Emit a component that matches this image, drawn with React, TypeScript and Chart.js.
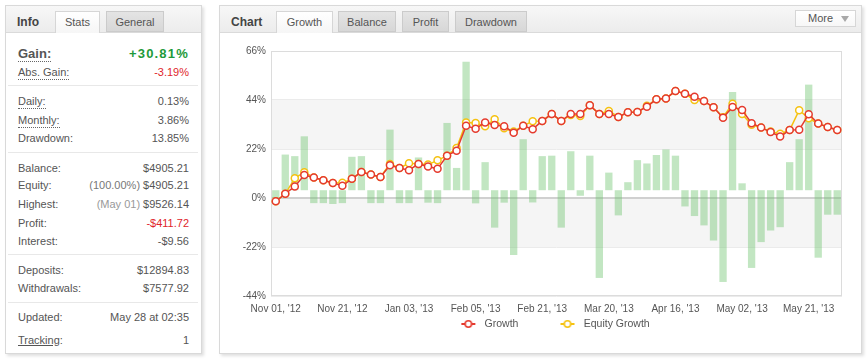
import React, { useEffect, useRef } from 'react';
import { Chart, registerables } from 'chart.js';

Chart.register(...registerables);
Chart.defaults.font.family = "'Liberation Sans', Arial, sans-serif";

// ---------- data ----------
const tickLabels = ["Nov 01, '12", "Nov 21, '12", "Jan 03, '13", "Feb 05, '13", "Feb 21, '13", "Mar 20, '13", "Apr 16, '13", "May 02, '13", "May 21, '13"];
const labelEvery = 7;

const growth = [
  -1.5, 1.9, 5.2, 10.3, 9.2, 8.0, 6.7, 5.5, 8.6, 11.7,
  10.5, 9.4, 14.7, 13.5, 12.5, 15.3, 14.1, 13.1, 19.0, 21.2,
  32.4, 31.1, 33.9, 32.8, 32.2, 29.3, 32.4, 30.9, 34.6, 37.7,
  34.6, 37.7, 37.7, 41.6, 37.7, 37.7, 36.4, 38.5, 38.6, 41.0,
  44.3, 44.7, 48.0, 46.8, 45.5, 43.5, 40.7, 36.0, 40.9, 39.5,
  33.6, 31.6, 29.6, 27.6, 30.5, 30.6, 37.6, 33.4, 31.9, 30.5,
];

const equityGrowth = [
  -1.5, 1.9, 8.9, 11.6, 9.2, 8.0, 6.7, 6.8, 8.6, 11.7,
  10.5, 9.4, 15.3, 13.5, 15.6, 15.3, 15.0, 16.9, 19.0, 22.4,
  33.9, 33.7, 32.2, 35.4, 31.3, 29.9, 32.4, 34.5, 34.6, 37.7,
  34.6, 37.3, 36.8, 41.6, 37.7, 39.1, 36.4, 38.5, 38.6, 41.4,
  44.3, 44.7, 48.0, 46.8, 44.0, 43.5, 40.7, 36.3, 42.3, 37.7,
  32.9, 31.6, 29.9, 28.8, 30.5, 39.4, 35.8, 33.4, 31.9, 30.5,
];

const periodBars = [
  -3.5, 16.0, 15.3, 24.2, -5.8, -5.8, -6.2, -5.8, 15.0, 15.3,
  -5.8, -5.8, 27.2, -5.8, -5.8, 14.7, -5.6, -5.8, 30.2, 10.0,
  57.7, -5.9, 12.6, -16.8, -5.6, -29.1, 22.9, -5.5, 15.3, 15.5,
  -16.8, 17.5, -2.5, 15.5, -39.4, 7.9, -11.3, 3.6, 13.5, 12.0,
  15.8, 18.3, 15.5, -7.3, -11.6, -15.8, -22.6, -41.2, 44.1, 3.1,
  -34.9, -23.3, -18.1, -16.6, 12.6, 22.9, 47.4, -30.3, -11.0, -11.0,
];

const yMin = -44;
const yMax = 66;
const yStep = 22;
const barMin = -47.5;
const barMax = 62.5;

const categories = growth.map((_, i) => (i % labelEvery === 0 ? tickLabels[i / labelEvery] ?? '' : ''));

const RED = '#e53a2e';
const YELLOW = '#f5c211';
const FONT = "'Liberation Sans', Arial, sans-serif";

// ---------- plugins ----------
const bandsPlugin = {
  id: 'bands',
  beforeDraw(chart: any) {
    const { ctx, chartArea, scales } = chart;
    const y = scales.y;
    const vals = y.ticks.map((t: any) => t.value).sort((a: number, b: number) => a - b);
    ctx.save();
    ctx.fillStyle = '#f5f5f5';
    for (let i = 1; i + 1 < vals.length; i += 2) {
      const p1 = y.getPixelForValue(vals[i + 1]);
      const p2 = y.getPixelForValue(vals[i]);
      ctx.fillRect(chartArea.left, p1, chartArea.right - chartArea.left, p2 - p1);
    }
    ctx.restore();
  },
};

const framePlugin = {
  id: 'frame',
  beforeDatasetsDraw(chart: any) {
    const { ctx, chartArea } = chart;
    ctx.save();
    ctx.strokeStyle = '#dcdcdc';
    ctx.lineWidth = 1;
    ctx.strokeRect(
      Math.round(chartArea.left) + 0.5,
      Math.round(chartArea.top) + 0.5,
      Math.round(chartArea.right - chartArea.left) - 1,
      Math.round(chartArea.bottom - chartArea.top) - 1
    );
    ctx.restore();
  },
};

function makeLegendIcon(color: string) {
  const c = document.createElement('canvas');
  c.width = 58;
  c.height = 12;
  const g = c.getContext('2d')!;
  g.strokeStyle = color;
  g.lineWidth = 2;
  g.beginPath();
  g.moveTo(40, 6);
  g.lineTo(54, 6);
  g.stroke();
  g.beginPath();
  g.arc(47, 6, 3.2, 0, Math.PI * 2);
  g.fillStyle = '#fff';
  g.fill();
  g.lineWidth = 1.5;
  g.stroke();
  return c;
}

function GrowthChart() {
  const ref = useRef<HTMLCanvasElement>(null);
  useEffect(() => {
    if (!ref.current) return;
    const icons: any[] = [makeLegendIcon(RED), makeLegendIcon(YELLOW)];
    const chart = new Chart(ref.current, {
      type: 'bar',
      data: {
        labels: categories,
        datasets: [
          {
            type: 'line',
            label: 'Growth',
            data: growth,
            borderColor: RED,
            backgroundColor: '#fff',
            pointBackgroundColor: '#fff',
            pointBorderColor: RED,
            pointRadius: 3.5,
            pointBorderWidth: 1.5,
            borderWidth: 1.5,
            tension: 0,
            yAxisID: 'y',
            order: 1,
          } as any,
          {
            type: 'line',
            label: 'Equity Growth',
            data: equityGrowth,
            borderColor: YELLOW,
            backgroundColor: '#fff',
            pointBackgroundColor: '#fff',
            pointBorderColor: YELLOW,
            pointRadius: 3.5,
            pointBorderWidth: 1.5,
            borderWidth: 1.5,
            tension: 0,
            yAxisID: 'y',
            order: 2,
          } as any,
          {
            type: 'bar',
            label: 'Period',
            data: periodBars,
            backgroundColor: 'rgba(110,195,110,0.42)',
            borderWidth: 0,
            barPercentage: 0.77,
            categoryPercentage: 1,
            yAxisID: 'y1',
            order: 3,
          } as any,
        ],
      },
      options: {
        animation: false,
        responsive: false,
        maintainAspectRatio: false,
        layout: { padding: { left: 9, right: 19, top: 17, bottom: 13.75 } },
        scales: {
          x: {
            offset: true,
            grid: { display: false, drawTicks: false },
            border: { display: false },
            ticks: {
              autoSkip: false,
              maxRotation: 0,
              minRotation: 0,
              padding: 7,
              color: '#555',
              font: { family: FONT, size: 10 },
            },
            afterFit: (s: any) => {
              s.height = 20.75;
            },
          },
          y: {
            min: yMin,
            max: yMax,
            grid: {
              drawTicks: false,
              color: (c: any) => (c.tick && c.tick.value === 0 ? '#d0d0d0' : '#ebebeb'),
              lineWidth: (c: any) => (c.tick && c.tick.value === 0 ? 2 : 1),
            },
            border: { display: false },
            ticks: {
              stepSize: yStep,
              padding: 5,
              color: '#555',
              font: { family: FONT, size: 10 },
              callback: (v: any) => v + '%',
            },
            afterFit: (s: any) => {
              s.width = 42;
            },
          },
          y1: {
            display: false,
            min: barMin,
            max: barMax,
          },
        },
        plugins: {
          tooltip: { enabled: false },
          legend: {
            position: 'bottom',
            labels: {
              usePointStyle: true,
              pointStyleWidth: 58,
              padding: 2,
              color: '#555',
              font: { family: FONT, size: 10.5 },
              filter: (item: any) => item.datasetIndex !== 2,
              generateLabels: (ch: any) =>
                (Chart.defaults.plugins.legend.labels.generateLabels as any)(ch).map((l: any) => ({
                  ...l,
                  pointStyle: icons[l.datasetIndex] ?? l.pointStyle,
                })),
            },
          },
        },
      } as any,
      plugins: [bandsPlugin, framePlugin],
    });
    return () => chart.destroy();
  }, []);
  return <canvas ref={ref} width={641} height={319} style={{ position: 'absolute', left: 0, top: 28, width: 641, height: 319 }} />;
}

// ---------- panel pieces ----------
const panelStyle = (left: number, width: number): React.CSSProperties => ({
  position: 'absolute',
  left,
  top: 5,
  width,
  height: 347,
  border: '1px solid #d9d9d9',
  background: '#fff',
  boxShadow: '2px 2px 3px rgba(0,0,0,0.13)',
  fontFamily: FONT,
  color: '#555',
});

function Header({ title, tabs }: { title: string; tabs: { label: string; left: number; width: number; active?: boolean }[] }) {
  return (
    <div
      style={{
        position: 'absolute',
        left: 0,
        top: 0,
        right: 0,
        height: 26,
        background: 'linear-gradient(#f7f7f7, #ececec)',
        borderBottom: '1px solid #dadada',
      }}
    >
      <div style={{ position: 'absolute', left: 11, top: 3, lineHeight: '26px', fontSize: 12, fontWeight: 'bold', color: '#444' }}>{title}</div>
      {tabs.map((t) => (
        <div
          key={t.label}
          style={{
            position: 'absolute',
            left: t.left,
            top: 5,
            width: t.width,
            height: t.active ? 22 : 21,
            boxSizing: 'border-box',
            border: '1px solid ' + (t.active ? '#d6d6d6' : '#cbcbcb'),
            borderBottom: t.active ? 'none' : '1px solid #cbcbcb',
            background: t.active ? 'linear-gradient(#ffffff, #f6f6f6)' : 'linear-gradient(#e4e4e4, #d7d7d7)',
            textAlign: 'center',
            lineHeight: '21px',
            fontSize: 11,
            color: '#555',
          }}
        >
          {t.label}
        </div>
      ))}
    </div>
  );
}

type Row = { y: number; label: string; value: React.ReactNode; dotted?: boolean; big?: boolean; valueColor?: string; tracking?: boolean };

const rows: Row[] = [
  { y: 47.5, label: 'Gain:', value: '+30.81%', dotted: true, big: true, valueColor: '#1e9a3a' },
  { y: 66, label: 'Abs. Gain:', value: '-3.19%', dotted: true, valueColor: '#e0252b' },
  { y: 95, label: 'Daily:', value: '0.13%', dotted: true },
  { y: 113.7, label: 'Monthly:', value: '3.86%', dotted: true },
  { y: 132, label: 'Drawdown:', value: '13.85%' },
  { y: 161.7, label: 'Balance:', value: '$4905.21' },
  { y: 179.3, label: 'Equity:', value: <><span style={{ color: '#777' }}>(100.00%)</span> $4905.21</> },
  { y: 197.7, label: 'Highest:', value: <><span style={{ color: '#999' }}>(May 01)</span> $9526.14</> },
  { y: 216.7, label: 'Profit:', value: '-$411.72', valueColor: '#e0252b' },
  { y: 234.7, label: 'Interest:', value: '-$9.56' },
  { y: 264, label: 'Deposits:', value: '$12894.83' },
  { y: 281.7, label: 'Withdrawals:', value: '$7577.92' },
  { y: 310.7, label: 'Updated:', value: 'May 28 at 02:35' },
  { y: 334, label: 'Tracking:', value: '1', tracking: true },
];
const separators = [79, 146, 248.3, 295.7];

function InfoPanel() {
  return (
    <div style={panelStyle(5, 195)}>
      <Header
        title="Info"
        tabs={[
          { label: 'Stats', left: 49, width: 45, active: true },
          { label: 'General', left: 100, width: 58 },
        ]}
      />
      {separators.map((s) => (
        <div key={s} style={{ position: 'absolute', left: 2, right: 3, top: s, height: 1, background: '#e8e8e8' }} />
      ))}
      {rows.map((r) => (
        <div key={r.label} style={{ position: 'absolute', left: 12, right: 12, top: r.y - 8, height: 16, lineHeight: '16px', fontSize: r.big ? 13 : 11 }}>
          <span style={{ position: 'absolute', left: 0, top: 0, fontWeight: r.big ? 'bold' : 'normal' }}>
            {r.tracking ? (
              <>
                <span style={{ textDecoration: 'underline' }}>Tracking</span>:
              </>
            ) : (
              <span style={r.dotted ? { borderBottom: '1px dotted #666', paddingBottom: r.big ? 0 : 1 } : undefined}>{r.label}</span>
            )}
          </span>
          <span
            style={{
              position: 'absolute',
              right: 0,
              top: 0,
              whiteSpace: 'nowrap',
              color: r.valueColor ?? '#555',
              fontWeight: r.big ? 'bold' : 'normal',
              letterSpacing: r.big ? 1.2 : 0,
            }}
          >
            {r.value}
          </span>
        </div>
      ))}
    </div>
  );
}

function ChartPanel() {
  return (
    <div style={panelStyle(219, 641)}>
      <Header
        title="Chart"
        tabs={[
          { label: 'Growth', left: 56, width: 57, active: true },
          { label: 'Balance', left: 118, width: 58 },
          { label: 'Profit', left: 182, width: 47 },
          { label: 'Drawdown', left: 235, width: 72 },
        ]}
      />
      <div
        style={{
          position: 'absolute',
          left: 575,
          top: 4,
          width: 61,
          height: 17,
          boxSizing: 'border-box',
          border: '1px solid #d6d6d6',
          background: 'linear-gradient(#ffffff, #f7f7f7)',
          fontSize: 11,
          lineHeight: '15px',
          color: '#555',
        }}
      >
        <span style={{ position: 'absolute', left: 12, top: 0 }}>More</span>
        <span
          style={{
            position: 'absolute',
            right: 6,
            top: 5,
            width: 0,
            height: 0,
            borderLeft: '4px solid transparent',
            borderRight: '4px solid transparent',
            borderTop: '6px solid #a8a8a8',
          }}
        />
      </div>
      <GrowthChart />
    </div>
  );
}

export default function App() {
  return (
    <div style={{ position: 'absolute', left: 0, top: 0, width: 868, height: 360, background: '#fff', overflow: 'hidden' }}>
      <InfoPanel />
      <ChartPanel />
    </div>
  );
}
